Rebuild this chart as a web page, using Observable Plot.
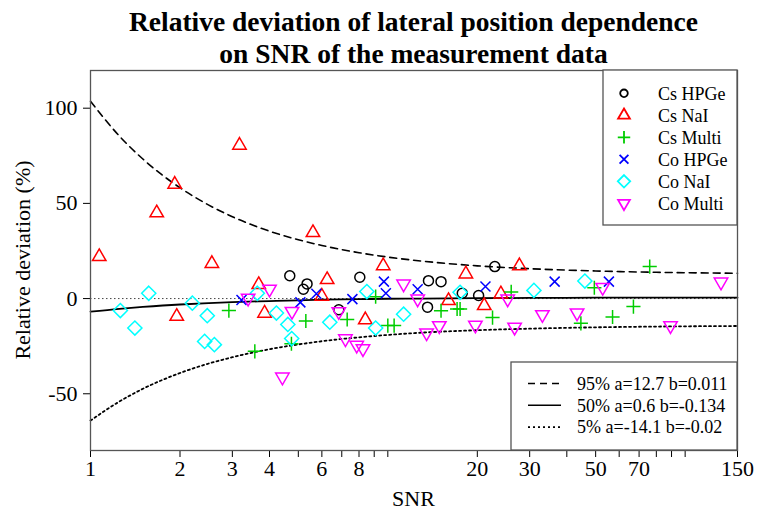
<!DOCTYPE html>
<html>
<head>
<meta charset="utf-8">
<script src="https://cdn.jsdelivr.net/npm/d3@7"></script>
<script src="https://cdn.jsdelivr.net/npm/@observablehq/plot@0.6"></script>
<style>
  html, body { margin: 0; padding: 0; background: white; }
  #chart svg { display: block; }
</style>
</head>
<body>
<div id="chart"></div>
<script>
// ---------- data ----------
const csHPGeX = [4.68, 5.35, 5.2, 8.05, 6.84, 13.7, 15.1, 13.6, 17.8, 20.2, 22.9];
const csHPGeY = [12, 7.7, 4.9, 11.2, -5.9, 9.4, 8.9, -4.5, 2.8, 1.6, 16.8];

const csNaIX = [1.07, 1.92, 1.67, 3.17, 2.56, 1.95, 3.68, 3.85, 5.6, 6.25, 6.0, 9.65, 8.4, 18.3, 16.0, 21.1, 24.0, 27.7];
const csNaIY = [22.0, 60.0, 45.0, 80.5, 18.4, -9.4, 7.3, -7.7, 34.6, 9.9, 1.2, 17.2, -11.2, 12.9, -1.1, -3.7, 2.4, 17.2];

const csMultiX = [2.92, 3.57, 4.74, 5.3, 7.3, 9.1, 10.0, 10.5, 15.1, 17.1, 17.5, 22.5, 26.0, 44.6, 49.5, 57, 67, 76];
const csMultiY = [-6.3, -27.7, -23.7, -11.8, -11, 1, -14.2, -14.2, -6.4, -5.5, -5.5, -10, 3.5, -13, 5.7, -9.7, -4.2, 16.8];

const coHPGeX = [3.22, 5.08, 5.75, 7.6, 9.7, 9.85, 12.6, 21.3, 36.4, 55.4];
const coHPGeY = [-0.7, -2, 2.5, -0.3, 8.9, 2.8, 4.9, 6.3, 8.9, 8.9];

const coNaIX = [1.26, 1.41, 1.57, 2.2, 2.47, 2.42, 2.61, 3.64, 4.22, 4.61, 4.75, 6.38, 8.5, 9.1, 11.3, 17.5, 31, 46];
const coNaIY = [-6.3, -15.5, 2.8, -2.4, -9, -22.5, -24.2, 2.8, -7.6, -13.6, -21, -12.4, 3.7, -15.5, -8.2, 3.3, 4.3, 9.2];

const coMultiX = [3.39, 4.0, 4.76, 4.42, 6.84, 7.2, 7.86, 8.25, 11.3, 12.6, 13.5, 14.9, 19.7, 25.3, 26.7, 33.1, 43.3, 52.8, 89.3, 132];
const coMultiY = [0.2, 5.0, -6.7, -41.2, -6.8, -21.1, -24.5, -26.3, 7.7, -0.2, -18.0, -14.2, -13.9, -0.2, -15.0, -8.4, -7.5, 5.9, -14.2, 8.7];

// quantile curves
const curveSNR = [1, 1.25, 1.5, 2, 2.5, 3, 4, 5, 6, 8, 10, 13, 20, 30, 50, 80, 150];
const q95 = [103.6, 85.4, 73.3, 58.2, 49.1, 43.0, 35.4, 30.9, 27.9, 24.1, 21.8, 19.7, 17.2, 15.7, 14.5, 13.8, 13.3];
const q50 = [-6.9, -5.4, -4.4, -3.1, -2.4, -1.9, -1.3, -0.9, -0.6, -0.3, -0.1, 0.0, 0.2, 0.35, 0.45, 0.5, 0.55];
const q05 = [-64.1, -54.1, -47.4, -39.1, -34.1, -30.8, -26.6, -24.1, -22.4, -20.35, -19.1, -17.9, -16.6, -15.8, -15.1, -14.7, -14.4];

const seriesNames = ["Cs HPGe", "Cs NaI", "Cs Multi", "Co HPGe", "Co NaI", "Co Multi"];
const seriesColors = ["#000000", "#FF0000", "#00CD00", "#0000FF", "#00FFFF", "#FF00FF"];
const curveNames = ["95% a=12.7 b=0.011", "50% a=0.6 b=-0.134", "5% a=-14.1 b=-0.02"];

const xTicks = [1, 2, 3, 4, 5, 6, 7, 8, 9, 10, 20, 30, 40, 50, 60, 70, 80, 90, 100, 150];
const xTickLabels = [1, 2, 3, 4, 6, 8, 20, 30, 50, 70, 150];
const yTicks = [-50, 0, 50, 100];

// ---------- R-style point symbols ----------
function rad(size) { return Math.sqrt(size / Math.PI); }
const symCircle = { draw(c, s) { const r = rad(s); c.moveTo(r, 0); c.arc(0, 0, r, 0, 2 * Math.PI); } };
const symTriUp = { draw(c, s) { const r = rad(s); c.moveTo(0, -1.555 * r); c.lineTo(1.347 * r, 0.778 * r); c.lineTo(-1.347 * r, 0.778 * r); c.closePath(); } };
const symTriDown = { draw(c, s) { const r = rad(s); c.moveTo(0, 1.555 * r); c.lineTo(1.347 * r, -0.778 * r); c.lineTo(-1.347 * r, -0.778 * r); c.closePath(); } };
const symPlus = { draw(c, s) { const r = rad(s) * 1.414; c.moveTo(-r, 0); c.lineTo(r, 0); c.moveTo(0, -r); c.lineTo(0, r); } };
const symTimes = { draw(c, s) { const r = rad(s); c.moveTo(-r, -r); c.lineTo(r, r); c.moveTo(-r, r); c.lineTo(r, -r); } };
const symDiamond = { draw(c, s) { const r = rad(s) * 1.414; c.moveTo(0, -r); c.lineTo(r, 0); c.lineTo(0, r); c.lineTo(-r, 0); c.closePath(); } };
const seriesSymbols = [symCircle, symTriUp, symPlus, symTimes, symDiamond, symTriDown];

const seriesX = [csHPGeX, csNaIX, csMultiX, coHPGeX, coNaIX, coMultiX];
const seriesY = [csHPGeY, csNaIY, csMultiY, coHPGeY, coNaIY, coMultiY];

const curveTable = curveSNR.map((x, i) => ({ x, q95: q95[i], q50: q50[i], q05: q05[i] }));

const W = 757, H = 511;
const FONT = "'Liberation Serif', 'Times New Roman', serif";

const dotMarks = seriesNames.map((name, k) => {
  const data = seriesX[k].map((x, i) => ({ x, y: seriesY[k][i] }));
  return Plot.dot(data, {
    x: "x", y: "y", r: 5, symbol: seriesSymbols[k],
    fill: "none", stroke: seriesColors[k], strokeWidth: 1.5
  });
});

const plot = Plot.plot({
  width: W, height: H,
  marginLeft: 90, marginRight: 20, marginTop: 70, marginBottom: 61,
  style: { fontFamily: FONT, fontSize: "22px", background: "white", color: "black" },
  x: {
    type: "log", domain: [1, 150], ticks: xTicks,
    tickFormat: () => "",
    tickSize: 7, label: null
  },
  y: {
    domain: [-79.8, 119.8], ticks: yTicks, tickFormat: d => String(d),
    tickSize: 7, tickPadding: 6, label: null
  },
  marks: [
    Plot.ruleY([0], { stroke: "#444", strokeWidth: 1, strokeDasharray: "1.5,2.5" }),
    Plot.line(curveTable, { x: "x", y: "q95", curve: "monotone-x", stroke: "black", strokeWidth: 1.6, strokeDasharray: "7,5" }),
    Plot.line(curveTable, { x: "x", y: "q50", curve: "monotone-x", stroke: "black", strokeWidth: 1.8 }),
    Plot.line(curveTable, { x: "x", y: "q05", curve: "monotone-x", stroke: "black", strokeWidth: 1.8, strokeDasharray: "2,3" }),
    ...dotMarks,
    Plot.frame({ stroke: "#555", strokeWidth: 1.3 }),
    // x tick labels, positioned by the x scale
    Plot.text(xTickLabels, {
      x: d => d, text: d => String(d), frameAnchor: "bottom", dy: 25,
      fontSize: 22, fill: "black"
    })
  ]
});

document.getElementById("chart").appendChild(plot);

// ---------- titles, axis titles, legends ----------
const svg = d3.select(plot);
const cx = (90 + (W - 20)) / 2;

function addText(sel, x, y, str, size, opts = {}) {
  const t = sel.append("text").attr("x", x).attr("y", y)
    .attr("text-anchor", opts.anchor || "start")
    .style("font-family", FONT).style("font-size", size + "px").attr("fill", "black")
    .text(str);
  if (opts.bold) t.style("font-weight", "bold");
  if (opts.dy) t.attr("dy", opts.dy);
  return t;
}

addText(svg, cx, 31, "Relative deviation of lateral position dependence", 27.5, { anchor: "middle", bold: true });
addText(svg, cx, 63, "on SNR of the measurement data", 27.5, { anchor: "middle", bold: true });
addText(svg, cx, 506, "SNR", 22, { anchor: "middle" });
svg.append("text").attr("transform", `translate(30,${(70 + 450) / 2}) rotate(-90)`)
  .attr("text-anchor", "middle").attr("fill", "black")
  .style("font-family", FONT).style("font-size", "22px").text("Relative deviation (%)");

// legend 1: point series
const L1 = { x0: 603, x1: W - 20, y0: 70, y1: 225 };
const g1 = svg.append("g");
g1.append("rect").attr("x", L1.x0).attr("y", L1.y0).attr("width", L1.x1 - L1.x0).attr("height", L1.y1 - L1.y0)
  .attr("fill", "white").attr("stroke", "#555").attr("stroke-width", 1.3);
seriesNames.forEach((name, k) => {
  const yy = 93.3 + 22 * k;
  const r = k === 0 ? 3.8 : 4.4;
  g1.append("path").attr("transform", `translate(624,${yy})`)
    .attr("d", d3.symbol().type(seriesSymbols[k]).size(Math.PI * r * r)())
    .attr("fill", "none").attr("stroke", seriesColors[k]).attr("stroke-width", 1.8);
  addText(g1, 658, yy, name, 18, { dy: "0.35em" });
});

// legend 2: quantile curves
const L2 = { x0: 511, x1: W - 20, y0: 362, y1: 450 };
const g2 = svg.append("g");
g2.append("rect").attr("x", L2.x0).attr("y", L2.y0).attr("width", L2.x1 - L2.x0).attr("height", L2.y1 - L2.y0)
  .attr("fill", "white").attr("stroke", "#555").attr("stroke-width", 1.3);
const dashes = ["7,5", null, "2,3"];
curveNames.forEach((name, k) => {
  const yy = 383.5 + 21.8 * k;
  const ln = g2.append("line").attr("x1", 528).attr("x2", 561).attr("y1", yy).attr("y2", yy)
    .attr("stroke", "black").attr("stroke-width", 1.6);
  if (dashes[k]) ln.attr("stroke-dasharray", dashes[k]);
  addText(g2, 577, yy, name, 18, { dy: "0.35em" });
});
</script>
</body>
</html>
